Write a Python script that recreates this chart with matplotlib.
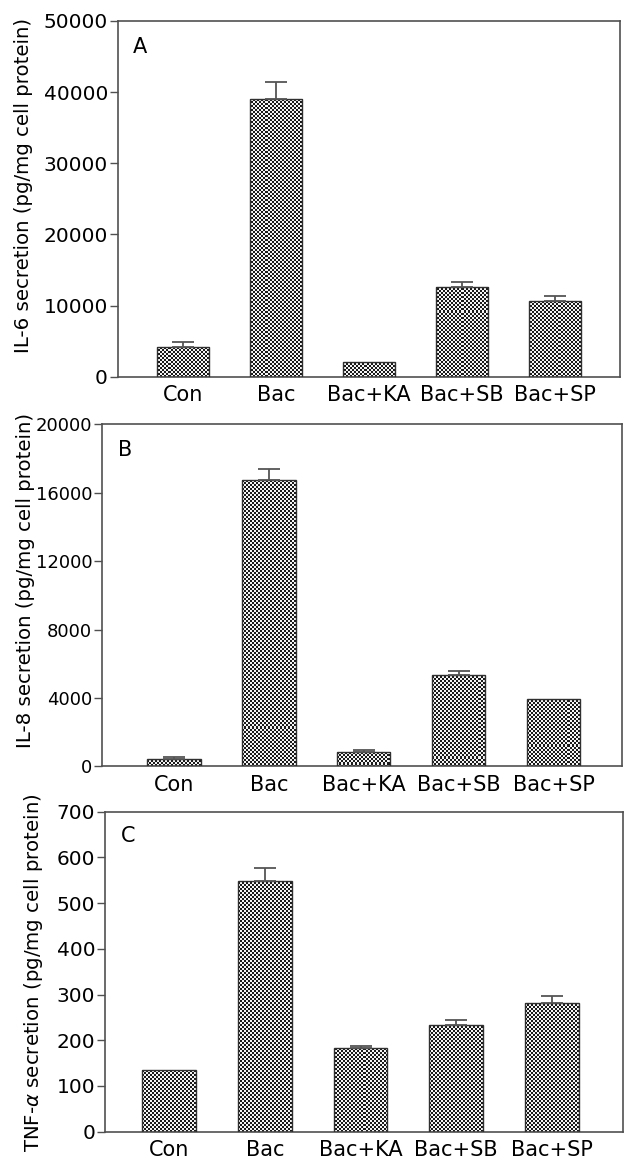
import numpy as np
import matplotlib
matplotlib.use("Agg")
import matplotlib.pyplot as plt

categories = ["Con", "Bac", "Bac+KA", "Bac+SB", "Bac+SP"]

il6_values = [4150, 39000, 2100, 12650, 10600]
il6_errors = [700, 2450, 0, 650, 700]

il8_values = [430, 16750, 840, 5330, 3960]
il8_errors = [120, 650, 120, 260, 0]

tnf_values = [134, 548, 182, 234, 282]
tnf_errors = [0, 29, 5, 10, 14]

panels = [
    dict(values=il6_values, errors=il6_errors, ylim=(0, 50000),
         yticks=[0, 10000, 20000, 30000, 40000, 50000],
         ylabel="IL-6 secretion (pg/mg cell protein)", letter="A",
         pos=[0.187, 0.676, 0.799, 0.306], xlim=(-0.70, 4.70), labxy=(-0.1686, 0.537),
         ytsize=14.5),
    dict(values=il8_values, errors=il8_errors, ylim=(0, 20000),
         yticks=[0, 4000, 8000, 12000, 16000, 20000],
         ylabel="IL-8 secretion (pg/mg cell protein)", letter="B",
         pos=[0.162, 0.341, 0.827, 0.294], xlim=(-0.76, 4.72), labxy=(-0.129, 0.544),
         ytsize=13.0),
    dict(values=tnf_values, errors=tnf_errors, ylim=(0, 700),
         yticks=[0, 100, 200, 300, 400, 500, 600, 700],
         ylabel="TNF-$\\alpha$ secretion (pg/mg cell protein)", letter="C",
         pos=[0.167, 0.027, 0.823, 0.275], xlim=(-0.67, 4.74), labxy=(-0.1154, 0.497),
         ytsize=14.5),
]

plt.rcParams['font.family'] = ['DejaVu Sans']
fig = plt.figure(figsize=(6.29, 11.63), dpi=100)
spine_col = "#505050"

for p in panels:
    ax = fig.add_axes(p["pos"])
    x = np.arange(len(categories))
    ax.set_xlim(*p["xlim"])
    ax.set_ylim(*p["ylim"])
    bars = ax.bar(x, p["values"], width=0.56, facecolor="none",
                  edgecolor="#303030", linewidth=1.0, zorder=3)
    fig.canvas.draw()
    inv = ax.transData.inverted()
    for b in bars:
        (px0, py0), (px1, py1) = ax.transData.transform(
            [[b.get_x(), b.get_y()], [b.get_x() + b.get_width(), b.get_y() + b.get_height()]])
        px0 = np.floor(px0); py0 = np.floor(py0)
        nx = int(np.ceil((px1 - px0) / 2)) + 1
        ny = int(np.ceil((py1 - py0) / 2)) + 1
        (dx0, dy0), (dx1, dy1) = inv.transform([[px0, py0], [px0 + 2 * nx, py0 + 2 * ny]])
        yy, xx = np.mgrid[0:ny, 0:nx]
        checker = ((xx + yy) % 2).astype(float)
        im = ax.imshow(checker, cmap="gray", vmin=-0.12, vmax=1.05,
                       extent=[dx0, dx1, dy0, dy1], origin="lower",
                       interpolation="nearest", aspect="auto", zorder=2)
        im.set_clip_path(b)
    ax.set_xlim(*p["xlim"])
    ax.set_ylim(*p["ylim"])
    errs = np.array(p["errors"], dtype=float)
    mask = errs > 0
    ax.errorbar(x[mask], np.array(p["values"])[mask], yerr=[np.zeros(mask.sum()), errs[mask]],
                fmt="none", ecolor="#555555", elinewidth=1.3, capsize=8, capthick=1.3, zorder=4)
    ax.set_xticks(x)
    ax.set_xticklabels(categories, fontsize=15)
    ax.set_yticks(p["yticks"])
    ax.tick_params(axis="y", direction="out", length=6, width=1, color=spine_col,
                   labelsize=p["ytsize"], pad=1)
    ax.tick_params(axis="x", length=0, pad=6)
    for s in ax.spines.values():
        s.set_color(spine_col)
        s.set_linewidth(1.2)
    ax.set_ylabel(p["ylabel"], fontsize=14.2)
    ax.yaxis.set_label_coords(*p["labxy"])
    ax.text(0.03, 0.955, p["letter"], transform=ax.transAxes, fontsize=15,
            ha="left", va="top")

fig.savefig("out.png", dpi=100)
